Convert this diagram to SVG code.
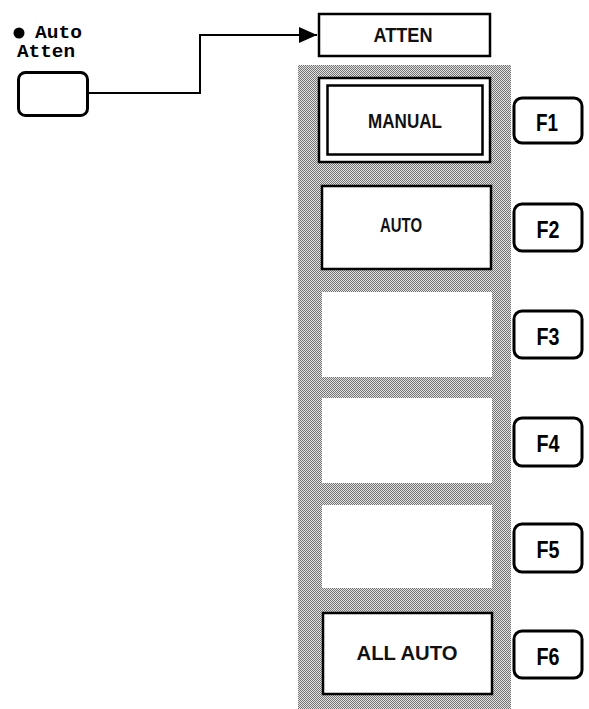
<svg xmlns="http://www.w3.org/2000/svg" width="589" height="709" viewBox="0 0 589 709">
<defs>
<pattern id="dots" width="2" height="2" patternUnits="userSpaceOnUse">
<rect width="2" height="2" fill="#e2e2e2"/>
<rect x="0" y="0" width="1" height="1" fill="#747474"/>
<rect x="1" y="1" width="1" height="1" fill="#747474"/>
</pattern>
<marker id="arrow" markerWidth="18" markerHeight="16" refX="18" refY="8" orient="auto" markerUnits="userSpaceOnUse">
<path d="M0,0 L18,8 L0,16 Z" fill="#000"/>
</marker>
</defs>
<style>
.box{fill:#fff;stroke:#000;stroke-width:2.5}
.blank{fill:#fff}
.key{fill:#fff;stroke:#000;stroke-width:3}
.lbl{font-family:"Liberation Sans",Arial,sans-serif;font-size:20px;font-weight:bold;fill:#111;text-anchor:middle}
.fk{font-family:"Liberation Sans",Arial,sans-serif;font-size:23px;font-weight:bold;fill:#000;text-anchor:middle}
.mono{font-family:"Liberation Mono","Courier New",monospace;font-size:18px;font-weight:bold;fill:#000}
.wire{fill:none;stroke:#000;stroke-width:2}
</style>
<rect id="shade" x="298" y="65" width="213" height="644" fill="url(#dots)"/>
<g id="autoatten">
<circle cx="19" cy="33" r="5.5" fill="#000"/>
<text class="mono" x="35" y="38" textLength="47" lengthAdjust="spacingAndGlyphs">Auto</text>
<text class="mono" x="17" y="57" textLength="58" lengthAdjust="spacingAndGlyphs">Atten</text>
<rect class="key" x="18.5" y="72.5" width="69" height="43" rx="7"/>
</g>
<g id="connectors">
<path class="wire" d="M89,93 H200 V35 H317" marker-end="url(#arrow)"/>
</g>
<g id="atten">
<rect class="box" x="319" y="14" width="171" height="42" stroke-width="2"/>
<text class="lbl" x="403" y="42" textLength="59" lengthAdjust="spacingAndGlyphs">ATTEN</text>
</g>
<g id="manual">
<rect class="box" x="319" y="78" width="171" height="84"/>
<rect class="box" x="327.5" y="85.5" width="155" height="69" stroke-width="2"/>
<text class="lbl" x="405" y="128" textLength="74" lengthAdjust="spacingAndGlyphs">MANUAL</text>
</g>
<g id="auto">
<rect class="box" x="322" y="186" width="169" height="83"/>
<text class="lbl" x="401" y="232" textLength="42" lengthAdjust="spacingAndGlyphs">AUTO</text>
</g>
<g id="soft3"><rect class="blank" x="322" y="292" width="170" height="85"/></g>
<g id="soft4"><rect class="blank" x="322" y="398" width="170" height="85"/></g>
<g id="soft5"><rect class="blank" x="322" y="505" width="170" height="83"/></g>
<g id="allauto">
<rect class="box" x="323" y="613" width="169" height="81"/>
<text class="lbl" x="407" y="660" textLength="101" lengthAdjust="spacingAndGlyphs">ALL AUTO</text>
</g>
<g id="f1"><rect class="key" x="514" y="98" width="68" height="45" rx="8"/><text class="fk" x="547" y="131" textLength="22" lengthAdjust="spacingAndGlyphs">F1</text></g>
<g id="f2"><rect class="key" x="514" y="204" width="68" height="47" rx="8"/><text class="fk" x="548" y="238" textLength="23" lengthAdjust="spacingAndGlyphs">F2</text></g>
<g id="f3"><rect class="key" x="514" y="311" width="68" height="47" rx="8"/><text class="fk" x="548" y="345" textLength="23" lengthAdjust="spacingAndGlyphs">F3</text></g>
<g id="f4"><rect class="key" x="514" y="418" width="68" height="48" rx="8"/><text class="fk" x="548" y="452" textLength="23" lengthAdjust="spacingAndGlyphs">F4</text></g>
<g id="f5"><rect class="key" x="514" y="524" width="68" height="48" rx="8"/><text class="fk" x="548" y="558" textLength="23" lengthAdjust="spacingAndGlyphs">F5</text></g>
<g id="f6"><rect class="key" x="514" y="631" width="68" height="47" rx="8"/><text class="fk" x="548" y="665" textLength="23" lengthAdjust="spacingAndGlyphs">F6</text></g>
</svg>
